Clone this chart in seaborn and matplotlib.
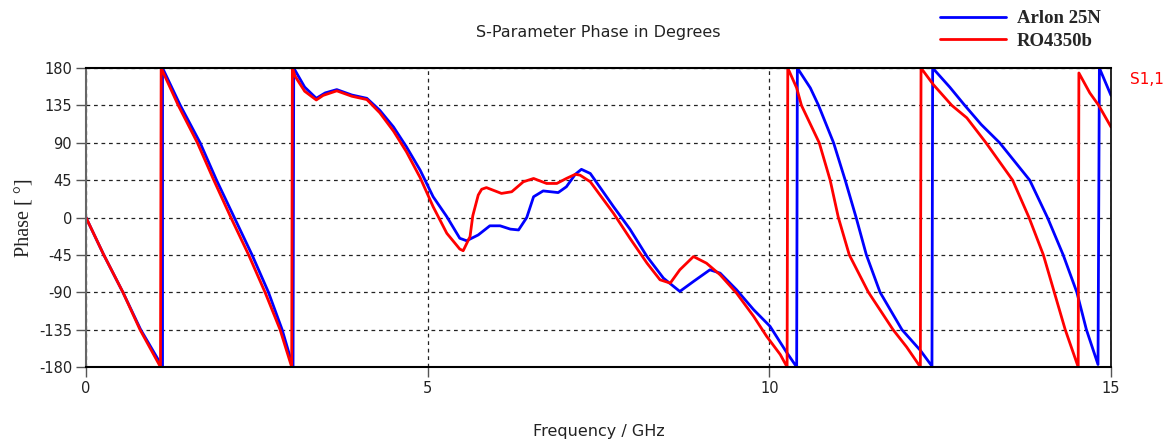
import matplotlib
matplotlib.use("Agg")
import matplotlib.pyplot as plt
import pandas as pd
import seaborn as sns

# Wrapped S1,1 phase (degrees) versus frequency (GHz) for the two laminates.
# Each wrap from -180 to +180 appears as two samples at (almost) the same frequency.
arlon_freq = [0.00, 0.26, 0.54, 0.80, 1.12, 1.12, 1.38, 1.67, 1.91, 2.17, 2.43, 2.67, 2.87, 3.03,
              3.04, 3.20, 3.37, 3.50, 3.67, 3.89, 4.11, 4.30, 4.50, 4.69, 4.89, 5.08, 5.28, 5.47,
              5.57, 5.74, 5.91, 6.06, 6.21, 6.33, 6.45, 6.55, 6.69, 6.91, 7.03, 7.16, 7.25, 7.38,
              7.72, 7.96, 8.21, 8.45, 8.69, 8.89, 9.13, 9.28, 9.52, 9.77, 10.01, 10.25, 10.40,
              10.41, 10.60, 10.72, 10.94, 11.11, 11.27, 11.42, 11.62, 11.94, 12.21, 12.38,
              12.39, 12.64, 12.86, 13.10, 13.37, 13.81, 14.07, 14.30, 14.50, 14.64, 14.81,
              14.83, 15.00]
arlon_phase = [0, -45, -90, -135, -180, 180, 135, 90, 45, 0, -45, -90, -135, -180,
               180, 157, 143.5, 150, 154, 147.5, 143.5, 129, 109, 85, 57, 25, 1, -25,
               -28, -21, -10, -10, -14, -15, 0, 25, 32, 30, 37, 52, 58, 53,
               13, -14, -47, -73, -89, -77, -63, -67, -87, -111, -131, -162, -180,
               180, 156, 135, 90, 45, 0, -45, -90, -135, -160, -179,
               180, 157, 135, 112, 90, 45, 0, -45, -90, -135, -177,
               180, 147]

ro_freq = [0.00, 0.26, 0.54, 0.79, 1.09, 1.10, 1.35, 1.63, 1.87, 2.12, 2.38, 2.62, 2.84, 3.01,
           3.02, 3.06, 3.20, 3.37, 3.47, 3.67, 3.89, 4.11, 4.30, 4.50, 4.69, 4.89, 5.08, 5.28,
           5.47, 5.52, 5.62, 5.66, 5.74, 5.79, 5.86, 6.08, 6.23, 6.40, 6.55, 6.74, 6.89, 7.03,
           7.16, 7.23, 7.38, 7.72, 7.96, 8.21, 8.40, 8.55, 8.69, 8.89, 9.08, 9.28, 9.52, 9.77,
           9.96, 10.16, 10.26, 10.27, 10.40, 10.47, 10.73, 10.89, 11.01, 11.17, 11.45, 11.81,
           12.01, 12.21, 12.22, 12.40, 12.67, 12.89, 13.17, 13.56, 13.80, 14.01, 14.17, 14.33,
           14.52, 14.53, 14.69, 14.82, 15.00]
ro_phase = [0, -45, -90, -135, -180, 180, 135, 90, 45, 0, -45, -90, -135, -180,
            180, 170, 152, 141.5, 147, 152.5, 146, 142, 126, 104, 79, 48, 13, -19,
            -38, -40, -23, 2, 27, 34, 36, 29, 31, 43, 47, 41, 41, 47,
            52, 51, 43, 5, -25, -55, -75, -79, -63, -47, -55, -69, -91, -119,
            -143, -165, -180, 180, 156, 135, 90, 45, 0, -45, -90, -135,
            -156, -180, 180, 160, 135, 120, 90, 45, 0, -45, -90, -135,
            -180, 174, 150, 135, 109]

series_names = ["Arlon 25N", "RO4350b"]
series_colors = ["#0000ff", "#ff0000"]
x_ticks = [0, 5, 10, 15]
y_ticks = [-180, -135, -90, -45, 0, 45, 90, 135, 180]

df = pd.concat([
    pd.DataFrame({"freq": arlon_freq, "phase": arlon_phase, "material": series_names[0]}),
    pd.DataFrame({"freq": ro_freq, "phase": ro_phase, "material": series_names[1]}),
], ignore_index=True)

sns.set_theme(style="white")
plt.rcParams["font.family"] = ["DejaVu Sans"]

W, H = 1167, 443
fig = plt.figure(figsize=(W / 100, H / 100), dpi=100)
fig.patch.set_facecolor("white")
ax = fig.add_axes([86 / W, 1 - 367 / H, (1111 - 86) / W, (367 - 68) / H])

sns.lineplot(data=df, x="freq", y="phase", hue="material", hue_order=series_names,
             palette=dict(zip(series_names, series_colors)), estimator=None, sort=False,
             linewidth=2.0, ax=ax)

ax.set_xlim(0, 15)
ax.set_ylim(-180, 180)
ax.set_xticks(x_ticks)
ax.set_yticks(y_ticks)
ax.set_xticklabels([str(v) for v in x_ticks])
ax.set_yticklabels([str(v) for v in y_ticks])
ax.tick_params(axis="both", which="major", direction="out", length=7, width=1,
               color="#555555", labelsize=10.5, labelcolor="#222222", pad=3,
               left=True, bottom=True)

ax.set_axisbelow(True)
ax.grid(True, color="#222222", linestyle=(0, (3, 3)), linewidth=0.9)

for side in ["top", "bottom"]:
    ax.spines[side].set_color("#000000")
    ax.spines[side].set_linewidth(1.5)
ax.spines["right"].set_color("#000000")
ax.spines["right"].set_linewidth(1.2)
ax.spines["left"].set_color("#666666")
ax.spines["left"].set_linewidth(1.5)

ax.set_title("S-Parameter Phase in Degrees", fontsize=11.5, color="#222222", pad=22)
ax.set_xlabel("Frequency / GHz", fontsize=11.5, color="#222222", labelpad=20)
ax.set_ylabel("Phase [ °]", family="Liberation Serif", fontsize=14.5, color="#222222",
              labelpad=3)

handles, labels = ax.get_legend_handles_labels()
ax.legend(handles, labels, loc="upper left", bbox_to_anchor=(940 / W, 1 - 10 / H),
          bbox_transform=fig.transFigure, frameon=False,
          prop={"family": "Liberation Serif", "weight": "bold", "size": 13.5},
          handlelength=3.5, handletextpad=0.6, labelspacing=0.28,
          borderpad=0, borderaxespad=0)

ax.text(1.0185, 0.963, "S1,1", transform=ax.transAxes, color="#ff0000",
        fontsize=11, ha="left", va="center")

fig.savefig("out.png", dpi=100, facecolor="white")
